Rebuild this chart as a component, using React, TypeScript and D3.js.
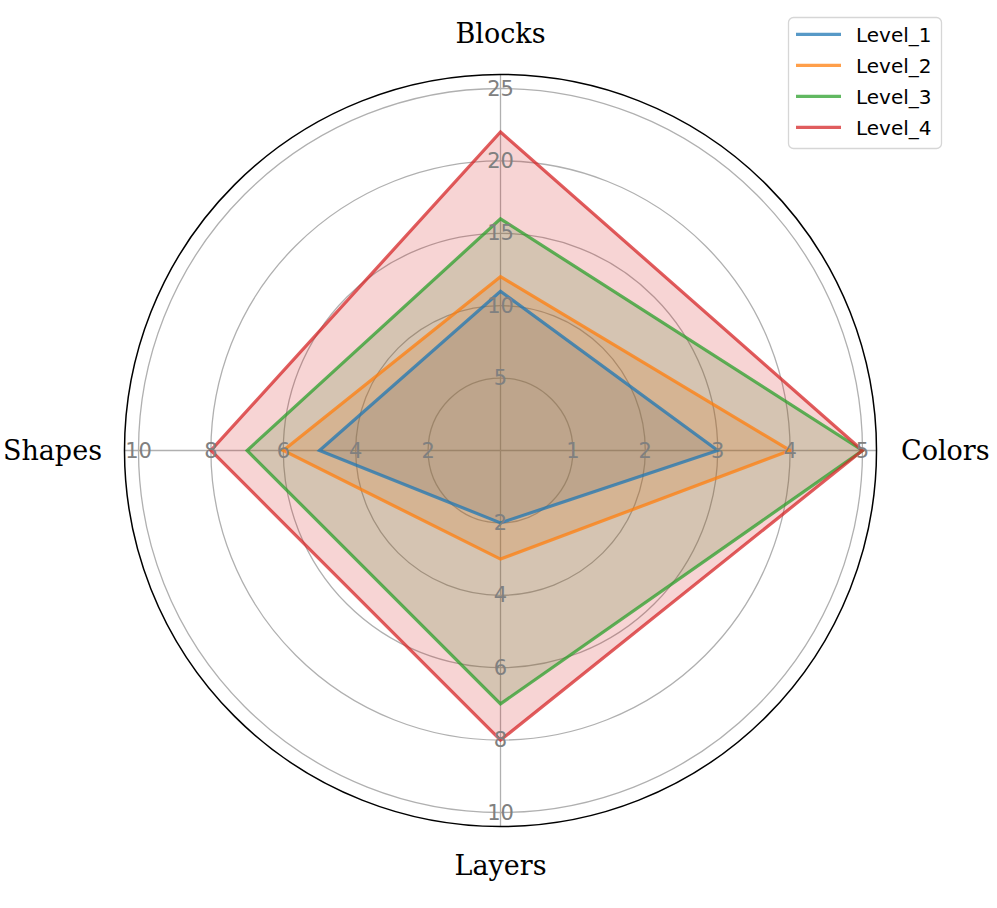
import React from "react";
import * as d3 from "d3";

const categories = ["Blocks", "Colors", "Layers", "Shapes"];
const axisMax = [25, 5, 10, 10];
const axisTicks = [
  [5, 10, 15, 20, 25],
  [1, 2, 3, 4, 5],
  [2, 4, 6, 8, 10],
  [2, 4, 6, 8, 10],
];
const seriesNames = ["Level_1", "Level_2", "Level_3", "Level_4"];
const level1 = [11, 3, 2, 5];
const level2 = [12, 4, 3, 6];
const level3 = [16, 5, 7, 7];
const level4 = [22, 5, 8, 8];
const seriesValues = [level1, level2, level3, level4];
const colors = ["#1f77b4", "#ff7f0e", "#2ca02c", "#d62728"];

const W = 997;
const H = 908;
const cx = 500.5;
const cy = 450.5;
const R = 362;
const Rout = 376;

export default function App() {
  const angleOf = (i: number) => (i * 2 * Math.PI) / categories.length;
  const rScales = axisMax.map((m) => d3.scaleLinear().domain([0, m]).range([0, R]));
  const frac = d3.scaleLinear().domain([0, 1]).range([0, R]);
  const line = d3
    .lineRadial<number>()
    .angle((_, i) => angleOf(i))
    .radius((v, i) => rScales[i](v))
    .curve(d3.curveLinearClosed);
  const gridFracs = [0.2, 0.4, 0.6, 0.8, 1.0];
  const pt = (a: number, r: number) => [r * Math.sin(a), -r * Math.cos(a)];

  return (
    <svg
      width={W}
      height={H}
      style={{ position: "absolute", left: 0, top: 0, background: "#fff" }}
      fontFamily="DejaVu Sans"
    >
      <g transform={`translate(${cx},${cy})`}>
        {gridFracs.map((f) => (
          <circle key={f} r={frac(f)} fill="none" stroke="#b0b0b0" strokeWidth={1.3} />
        ))}
        {categories.map((c, i) => {
          const [x, y] = pt(angleOf(i), Rout);
          return <line key={c} x1={0} y1={0} x2={x} y2={y} stroke="#b0b0b0" strokeWidth={1.3} />;
        })}
        <circle r={Rout} fill="none" stroke="#000" strokeWidth={1.5} />
        {seriesValues.map((vals, s) => (
          <path key={`f-${s}`} d={line(vals) || ""} fill={colors[s]} fillOpacity={0.2} stroke="none" />
        ))}
        {seriesValues.map((vals, s) => (
          <path
            key={`l-${s}`}
            d={line(vals) || ""}
            fill="none"
            stroke={colors[s]}
            strokeOpacity={0.75}
            strokeWidth={3.2}
            strokeLinejoin="miter"
          />
        ))}
        {axisTicks.map((ticks, i) =>
          ticks.map((t) => {
            const [x, y] = pt(angleOf(i), rScales[i](t));
            return (
              <text
                key={`${i}-${t}`}
                x={x}
                y={y}
                textAnchor="middle"
                dominantBaseline="central"
                fontSize={21}
                fill="#808080"
              >
                {t}
              </text>
            );
          })
        )}
      </g>
      <g fontFamily="DejaVu Serif" fontSize={27} fill="#000">
        <text x={cx} y={43} textAnchor="middle">{categories[0]}</text>
        <text x={901} y={cy} textAnchor="start" dominantBaseline="central">{categories[1]}</text>
        <text x={cx} y={875} textAnchor="middle">{categories[2]}</text>
        <text x={102} y={cy} textAnchor="end" dominantBaseline="central">{categories[3]}</text>
      </g>
      <g>
        <rect x={788.5} y={17.5} width={153} height={131} rx={5} fill="#fff" fillOpacity={0.8} stroke="#d6d6d6" strokeWidth={1.3} />
        {seriesNames.map((n, s) => {
          const y = 34.3 + s * 31;
          return (
            <g key={n}>
              <line x1={796} x2={841} y1={y} y2={y} stroke={colors[s]} strokeOpacity={0.75} strokeWidth={3.2} />
              <text x={856} y={y + 8} fontSize={20} fill="#000">{n}</text>
            </g>
          );
        })}
      </g>
    </svg>
  );
}
